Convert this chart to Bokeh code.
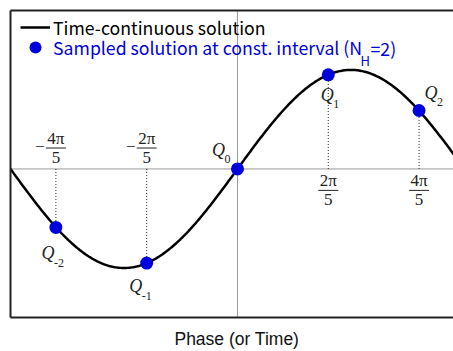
import numpy as np
from bokeh.plotting import figure
from bokeh.models import (Range1d, FixedTicker, LinearAxis, Span, Label, Legend,
                          LegendItem, ColumnDataSource)
from bokeh.core.properties import value
from bokeh.embed import file_html
from bokeh.resources import INLINE

# ---------------- data ----------------
SAMPLE_K = [-2, -1, 0, 1, 2]                      # sample index (N_H = 2)
SAMPLE_VALUE = [-0.59, -0.95, 0.0, 0.95, 0.59]
SAMPLE_SUB = ["-2", "-1", "0", "1", "2"]
TICK_K = [-2, -1, 1, 2]
TICK_NUM = ["4π", "2π", "2π", "4π"]
TICK_SIGN = ["−", "−", "", ""]
TICK_DEN = ["5", "5", "5", "5"]
AMPLITUDE = 1.0
LEGEND_LINE = "Time-continuous solution"
LEGEND_DOT = "Sampled solution at const. interval (N"
LEGEND_SUB = "H"
LEGEND_END = "=2)"
X_TITLE = "Phase (or Time)"

STEP = 2 * np.pi / 5
sample_phase = [k * STEP for k in SAMPLE_K]
tick_phase = [k * STEP for k in TICK_K]
tick_value = [SAMPLE_VALUE[SAMPLE_K.index(k)] for k in TICK_K]
curve_phase = np.linspace(-np.pi, np.pi, 401)
curve_value = AMPLITUDE * np.sin(curve_phase)

# ---------------- layout ----------------
W, H = 453, 351
BL, BR, BT, BB = 10, 0, 10, 33
FRAME_W, FRAME_H = W - BL - BR, H - BT - BB
X0, X1 = -np.pi, 2.99
Y0, Y1 = -1.5, 1.6
PX_X = FRAME_W / (X1 - X0)
PX_Y = FRAME_H / (Y1 - Y0)

SANS = "Noto Sans CJK JP"
TITLE_FONT = "Liberation Sans"
SERIF = "Liberation Serif"
BLUE = "#0000dc"
FRAME_COLOR = "#222222"

p = figure(width=W, height=H, output_backend="svg", toolbar_location=None,
           x_range=Range1d(X0, X1), y_range=Range1d(Y0, Y1),
           min_border_left=BL, min_border_right=BR, min_border_top=BT,
           min_border_bottom=BB, x_axis_location="below", y_axis_location="left")
p.outline_line_color = None
p.grid.visible = False
p.background_fill_color = "white"
p.border_fill_color = "white"
p.add_layout(LinearAxis(), "above")
for ax in p.axis:
    ax.ticker = FixedTicker(ticks=[])
    ax.axis_line_width = 2
    ax.axis_line_color = FRAME_COLOR
    ax.major_tick_out = 0
    ax.major_tick_in = 0
    ax.minor_tick_out = 0
    ax.minor_tick_in = 0
    ax.major_label_standoff = 0
    ax.axis_label_standoff = 0

# x title as the bottom axis label (leading spaces centre it on phase 0)
xa = p.below[0]
xa.axis_label = "\u00a0\u00a0" + X_TITLE
xa.axis_label_standoff = 11
xa.axis_label_text_font = TITLE_FONT
xa.axis_label_text_font_size = "17.5px"
xa.axis_label_text_font_style = "normal"
xa.axis_label_text_color = "#111111"

# zero lines
p.add_layout(Span(location=0, dimension="width", line_color="#9a9a9a",
                  line_width=1, level="underlay"))
p.add_layout(Span(location=0, dimension="height", line_color="#9a9a9a",
                  line_width=1, level="underlay"))

# dotted projection lines
p.segment(x0=tick_phase, y0=[0] * len(tick_phase), x1=tick_phase, y1=tick_value,
          line_color="#222222", line_width=1, line_dash="1 2")

# continuous curve
curve_r = p.line(curve_phase, curve_value, line_color="black", line_width=2.5)

# samples
dot_r = p.scatter(sample_phase, SAMPLE_VALUE, size=13, fill_color=BLUE,
                  line_color=BLUE, line_width=0)

# fraction tick labels (above zero line for negative, below for positive)
BAR_PX = 21
bar_dy = [(-BAR_PX if k < 0 else BAR_PX + 0.5) for k in TICK_K]   # screen px, down positive
num_src = ColumnDataSource(dict(x=tick_phase, y=[0] * 4, text=TICK_NUM,
                                dy=[d - 9.5 for d in bar_dy]))
den_src = ColumnDataSource(dict(x=tick_phase, y=[0] * 4, text=TICK_DEN,
                                dy=[d + 9.5 for d in bar_dy]))
for src in (num_src, den_src):
    p.text(x="x", y="y", text="text", y_offset="dy", source=src,
           text_font=value(SERIF), text_font_size="17px", text_align="center",
           text_baseline="middle", text_color="#222222")
half_bar = 10 / PX_X
p.segment(x0=[x - half_bar for x in tick_phase], x1=[x + half_bar for x in tick_phase],
          y0=[-d / PX_Y for d in bar_dy], y1=[-d / PX_Y for d in bar_dy],
          line_color="#222222", line_width=1)
sign_src = ColumnDataSource(dict(x=tick_phase, y=[0] * 4, text=TICK_SIGN,
                                 dy=[d - 1 for d in bar_dy]))
p.text(x="x", y="y", text="text", y_offset="dy", x_offset=-16, source=sign_src,
       text_font=value(SERIF), text_font_size="17px", text_align="center",
       text_baseline="middle", text_color="#222222")

# Q labels
Q_DX = [-8, -11, -19, -1, 12]
Q_DY = [26, 23, -19, 20, -18]
q_src = ColumnDataSource(dict(x=sample_phase, y=SAMPLE_VALUE, text=["Q"] * 5,
                              dx=Q_DX, dy=Q_DY))
p.text(x="x", y="y", text="text", x_offset="dx", y_offset="dy", source=q_src,
       text_font=value(SERIF), text_font_style="italic", text_font_size="18px",
       text_align="center", text_baseline="middle", text_color="#222222")
s_src = ColumnDataSource(dict(x=sample_phase, y=SAMPLE_VALUE, text=SAMPLE_SUB,
                              dx=[d + 6 for d in Q_DX], dy=[d + 9.5 for d in Q_DY]))
p.text(x="x", y="y", text="text", x_offset="dx", y_offset="dy", source=s_src,
       text_font=value(SERIF), text_font_size="12px",
       text_align="left", text_baseline="middle", text_color="#222222")

# legend
for label, rend, color, gh, vy in [(LEGEND_LINE, curve_r, "black", 20, 277),
                                   (LEGEND_DOT, dot_r, BLUE, 32, 254)]:
    lg = Legend(items=[LegendItem(label=label, renderers=[rend])], location=(10, vy),
                padding=0, margin=0, spacing=0, border_line_color=None,
                background_fill_alpha=0, glyph_width=30, glyph_height=gh,
                label_height=gh, label_standoff=3, label_text_color=color,
                label_text_font=SANS, label_text_font_size="17.7px",
                label_text_line_height=0.8)
    p.add_layout(lg, "center")

p.add_layout(Label(x=350, y=257, x_units="screen", y_units="screen", text=LEGEND_SUB,
                   text_font=SANS, text_font_size="13px", text_color=BLUE,
                   text_baseline="middle"))
p.add_layout(Label(x=360, y=270, x_units="screen", y_units="screen", text=LEGEND_END,
                   text_font=SANS, text_font_size="17.7px", text_color=BLUE,
                   text_baseline="middle"))

open("out.html", "w").write(file_html(p, INLINE))
